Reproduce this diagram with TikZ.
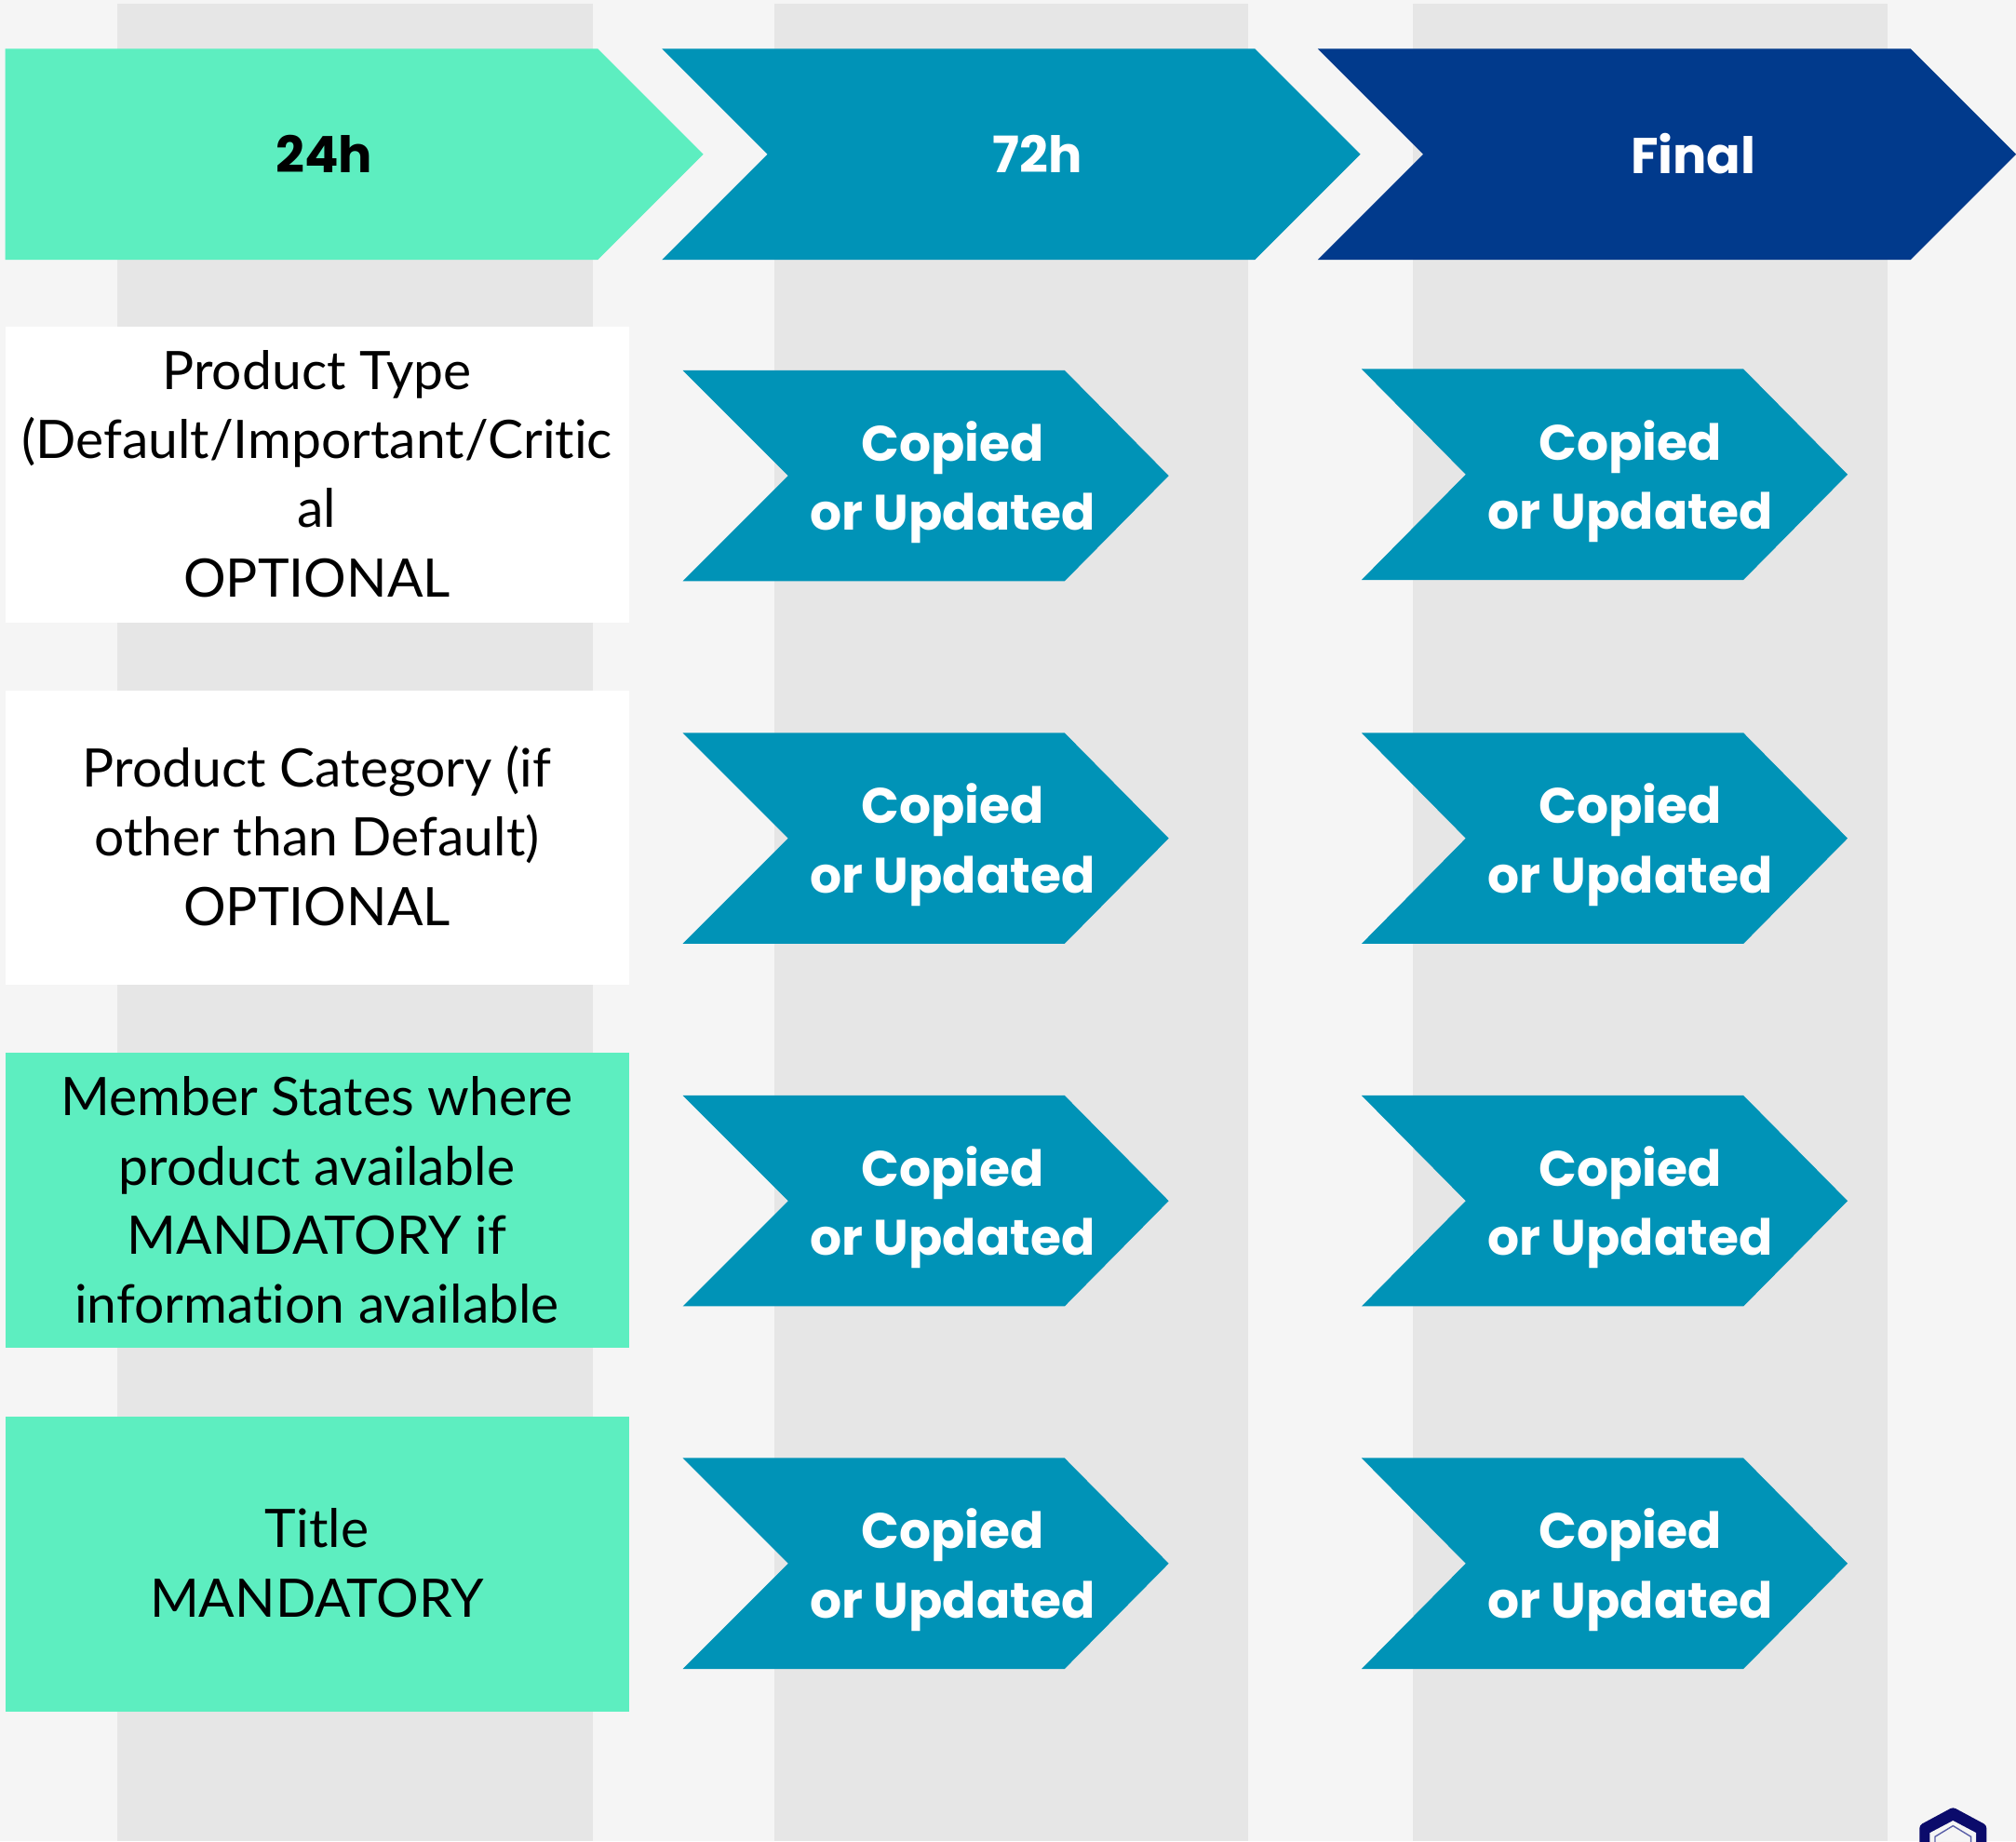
\documentclass[tikz,border=0pt]{standalone}
\usepackage{fontspec}
\setmainfont{Lato}[Ligatures=NoCommon]
\newfontfamily\boldf{Poppins}[UprightFont=* Bold]
\definecolor{pagebg}{HTML}{F5F5F5}
\definecolor{colbg}{HTML}{E6E6E6}
\definecolor{mint}{HTML}{5DEEC0}
\definecolor{teal2}{HTML}{0093B7}
\definecolor{navy2}{HTML}{013A8C}
\definecolor{logon}{HTML}{0B0B6B}
\definecolor{logol}{HTML}{5A5FA8}
\newcommand{\chevr}[8]{% name,color,left,shoulder,tip,top,bottom,notchx
  \fill[#2] (#3,#6) -- (#4,#6) -- (#5,{(#6+#7)/2}) -- (#4,#7) -- (#3,#7) -- (#8,{(#6+#7)/2}) -- cycle;
}
\tikzset{
  x=1.38138pt,y=-1.38138pt,
  headtxt/.style={font=\boldf\fontsize{54pt}{70pt}\selectfont,inner sep=0pt},
  chevtxt/.style={font=\boldf\fontsize{53.5pt}{74.6pt}\selectfont,text=white,align=center,inner sep=0pt},
  boxtxt/.style={font=\fontsize{57pt}{74.3pt}\selectfont,text=black,align=center,inner sep=0pt},
}
\newcommand{\copied}[3]{%
  \node[chevtxt] (#1) at (#2,#3) {Copied\\or Updated};}
\begin{document}
\begin{tikzpicture}
\useasboundingbox (0,0) rectangle (1568,1432);
\fill[pagebg] (0,0) rectangle (1568,1432);
\fill[colbg] (91,3) rectangle (461,1432);
\fill[colbg] (602,3) rectangle (971,1432);
\fill[colbg] (1099,3) rectangle (1468,1432);
% header
\chevr{h1}{mint}{4}{465}{547}{38}{202}{4}
\chevr{h2}{teal2}{515}{976}{1058}{38}{202}{597}
\chevr{h3}{navy2}{1025}{1486}{1568}{38}{202}{1107}
\node[headtxt,text=black] (t24) at (252,119.5) {24h};
\node[headtxt,text=white] (t72) at (807,119.5) {72h};
\node[headtxt,text=white] (tfin) at (1317,119.5) {Final};
% boxes
\fill[white] (4,254) rectangle (489,484);
\fill[white] (4,537) rectangle (489,766);
\fill[mint] (4,819) rectangle (489,1048);
\fill[mint] (4,1102) rectangle (489,1331);
\node[boxtxt] (b1) at (246.5,368.5) {Product Type\\(Default/Important/Critic\\al\\OPTIONAL};
\node[boxtxt] (b2) at (246.5,650) {Product Category (if\\other than Default)\\OPTIONAL};
\node[boxtxt] (b3) at (246.5,933.5) {Member States where\\product available\\MANDATORY if\\information available};
\node[boxtxt] (b4) at (246.5,1215.5) {Title\\MANDATORY};
% small chevrons
\chevr{a1}{teal2}{531}{828}{909}{288}{452}{613}
\chevr{a2}{teal2}{531}{828}{909}{570}{734}{613}
\chevr{a3}{teal2}{531}{828}{909}{852}{1016}{613}
\chevr{a4}{teal2}{531}{828}{909}{1134}{1298}{613}
\chevr{c1}{teal2}{1059}{1356}{1437}{287}{451}{1140}
\chevr{c2}{teal2}{1059}{1356}{1437}{570}{734}{1140}
\chevr{c3}{teal2}{1059}{1356}{1437}{852}{1016}{1140}
\chevr{c4}{teal2}{1059}{1356}{1437}{1134}{1298}{1140}
\copied{ta1}{741}{375}
\copied{ta2}{741}{657}
\copied{ta3}{741}{939}
\copied{ta4}{741}{1221}
\copied{tc1}{1268}{374.5}
\copied{tc2}{1268}{657}
\copied{tc3}{1268}{939}
\copied{tc4}{1268}{1221}
% logo, cut by the page edge
\begin{scope}
\clip (0,0) rectangle (1568,1432);
\fill[logon,rounded corners=3pt] (1519,1405.5) -- (1545,1419.5) -- (1545,1450) -- (1493,1450) -- (1493,1419.5) -- cycle;
\fill[pagebg] (1519,1416) -- (1537,1425.5) -- (1537,1450) -- (1501,1450) -- (1501,1425.5) -- cycle;
\draw[logol,line width=1.4pt] (1519,1420) -- (1533,1428.5) -- (1533,1450) -- (1505,1450) -- (1505,1428.5) -- cycle;
\end{scope}
\end{tikzpicture}
\end{document}
